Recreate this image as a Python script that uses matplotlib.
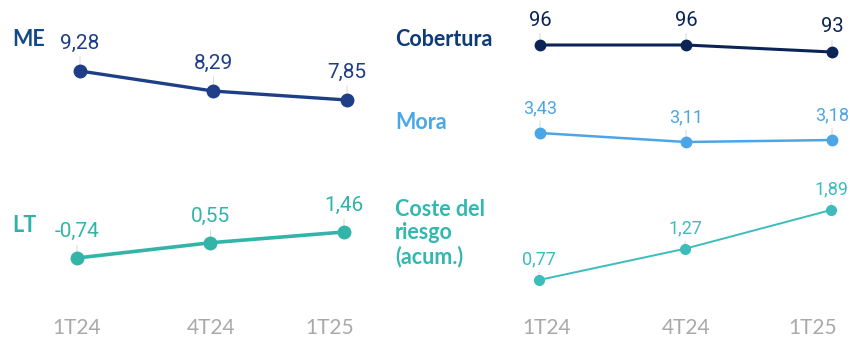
import matplotlib
matplotlib.use("Agg")
import matplotlib.pyplot as plt
import matplotlib.transforms as mtransforms

# Quarterly periods shown on both panels
periods = ["1T24", "4T24", "1T25"]

# Left panel (%)
me_values = [9.28, 8.29, 7.85]
lt_values = [-0.74, 0.55, 1.46]

# Right panel (%)
cobertura_values = [96, 96, 93]
mora_values = [3.43, 3.11, 3.18]
coste_values = [0.77, 1.27, 1.89]

W, H, DPI = 850, 337, 100
fig = plt.figure(figsize=(W / DPI, H / DPI), dpi=DPI)
fig.patch.set_facecolor("white")

NUM_FONT = ["Roboto", "DejaVu Sans"]
TXT_FONT = ["Lato", "DejaVu Sans"]
LEADER = "#dcdcdc"


def fmt(v):
    if float(v).is_integer():
        return f"{int(v)}"
    return f"{v:.2f}".replace(".", ",")


def series_axes(left_px, width_px, xlim, values, y_max_px, y_min_px):
    """Small invisible axes whose y scale maps max/min values to given rows."""
    top = y_max_px - 20
    bottom = y_min_px + 20
    ax = fig.add_axes([left_px / W, 1 - bottom / H, width_px / W, (bottom - top) / H])
    vmax, vmin = max(values), min(values)
    scale = (y_min_px - y_max_px) / (vmax - vmin)
    hi = vmax + (y_max_px - top) / scale
    lo = vmin - (bottom - y_min_px) / scale
    ax.set_ylim(lo, hi)
    ax.set_xlim(*xlim)
    ax.axis("off")
    return ax


def draw_series(ax, values, color, lw, ms, fsize, offset_pt):
    x = list(range(len(values)))
    ax.plot(x, values, color=color, lw=lw, marker="o", ms=ms,
            solid_capstyle="round", clip_on=False, zorder=3)
    for xi, v in zip(x, values):
        ax.annotate(fmt(v), xy=(xi, v), xytext=(0, offset_pt),
                    textcoords="offset points", ha="center", va="center",
                    fontsize=fsize, color=color, family=NUM_FONT,
                    arrowprops=dict(arrowstyle="-", color=LEADER, lw=0.8,
                                    shrinkA=1, shrinkB=0),
                    zorder=2, annotation_clip=False)


# Horizontal layout of the two panels
L_LEFT, L_WIDTH, L_XLIM = 53.3, 320.4, (-0.2, 2.2)
R_LEFT, R_WIDTH, R_XLIM = 510.8, 335.8, (-0.2, 2.1)

# Left panel
ax_me = series_axes(L_LEFT, L_WIDTH, L_XLIM, me_values, 71, 100)
draw_series(ax_me, me_values, "#1e3f88", 2.4, 9, 15, 20)

ax_lt = series_axes(L_LEFT - 3, L_WIDTH, L_XLIM, lt_values, 232, 258)
draw_series(ax_lt, lt_values, "#33b4a9", 2.6, 9, 15, 19)

# Right panel
ax_cob = series_axes(R_LEFT, R_WIDTH, R_XLIM, cobertura_values, 45, 52)
draw_series(ax_cob, cobertura_values, "#0b2455", 2.2, 7.5, 14.5, 18)

ax_mora = series_axes(R_LEFT, R_WIDTH, R_XLIM, mora_values, 133, 142)
draw_series(ax_mora, mora_values, "#4ca6e6", 1.8, 7.5, 13, 18)

ax_coste = series_axes(R_LEFT - 1, R_WIDTH, R_XLIM, coste_values, 210, 280)
draw_series(ax_coste, coste_values, "#3dbcbc", 1.4, 7, 13, 15)

# Period labels under each panel
label_shift = {"left": [-3, -2, -17], "right": [7, 0, -19]}
for name, left, width, xlim in [("left", L_LEFT, L_WIDTH, L_XLIM),
                                ("right", R_LEFT, R_WIDTH, R_XLIM)]:
    axp = fig.add_axes([left / W, 1 - 312 / H, width / W, 0.01])
    axp.set_xlim(*xlim)
    axp.set_xticks(range(len(periods)))
    axp.set_xticklabels(periods, fontsize=15, color="#a9a9a9", family=TXT_FONT,
                        fontweight="normal")
    axp.tick_params(axis="x", length=0, pad=4)
    axp.set_yticks([])
    for s in axp.spines.values():
        s.set_visible(False)
    axp.patch.set_alpha(0)
    for lbl, dx in zip(axp.get_xticklabels(), label_shift[name]):
        lbl.set_transform(lbl.get_transform() +
                          mtransforms.ScaledTranslation(dx / DPI, 0, fig.dpi_scale_trans))

# Series names
def name_text(x_px, y_px, text, color):
    fig.text(x_px / W, 1 - y_px / H, text, ha="left", va="center",
             fontsize=15.5, fontweight="bold", color=color, family=TXT_FONT,
             linespacing=1.15)

name_text(12, 39, "ME", "#114a87")
name_text(12, 225, "LT", "#2fb3a8")
name_text(395, 40, "Cobertura", "#0c3b78")
name_text(395, 122, "Mora", "#4aa8e8")
name_text(395, 233, "Coste del\nriesgo\n(acum.)", "#33b8b0")

fig.savefig("out.png", dpi=DPI, facecolor="white")
